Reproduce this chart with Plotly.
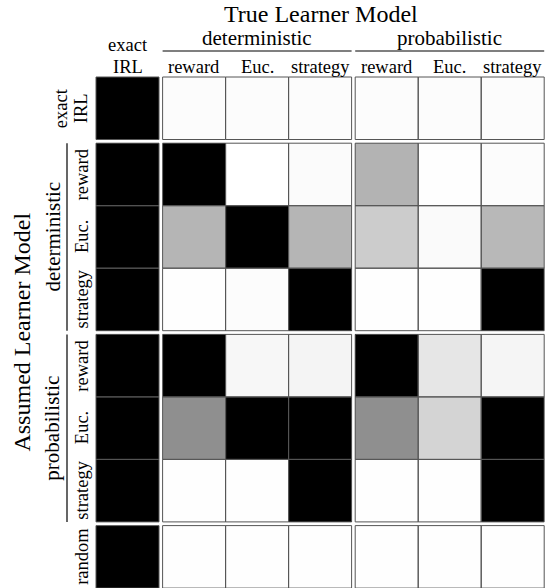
import math
import plotly.graph_objects as go

# ---------------- data ----------------
true_groups = ["", "deterministic", "probabilistic"]
true_models = [["exact\nIRL"], ["reward", "Euc.", "strategy"], ["reward", "Euc.", "strategy"]]
assumed_groups = ["", "deterministic", "probabilistic", ""]
assumed_models = [["exact\nIRL"], ["reward", "Euc.", "strategy"], ["reward", "Euc.", "strategy"], ["random"]]

# darkness of each cell (0 = white, 1 = black); rows = assumed model, cols = true model
row_exact_irl = [1.0, 0.01, 0.01, 0.01, 0.01, 0.01, 0.01]
row_det_reward = [1.0, 1.0, 0.0, 0.015, 0.30, 0.005, 0.01]
row_det_euc = [1.0, 0.29, 1.0, 0.29, 0.20, 0.02, 0.28]
row_det_strategy = [1.0, 0.005, 0.01, 1.0, 0.005, 0.005, 1.0]
row_prob_reward = [1.0, 1.0, 0.03, 0.045, 1.0, 0.10, 0.04]
row_prob_euc = [1.0, 0.44, 1.0, 1.0, 0.44, 0.17, 1.0]
row_prob_strategy = [1.0, 0.005, 0.005, 1.0, 0.005, 0.005, 1.0]
row_random = [1.0, 0.005, 0.005, 0.005, 0.005, 0.005, 0.005]
values = [row_exact_irl, row_det_reward, row_det_euc, row_det_strategy,
          row_prob_reward, row_prob_euc, row_prob_strategy, row_random]

title_top = "True Learner Model"
title_left = "Assumed Learner Model"

# ---------------- layout constants ----------------
W, H = 557, 588
X0, CW, XGAP = 96.0, 63.0, 3.6
Y0, CH, YGAP = 77.0, 62.5, 3.7
FONT = "Liberation Serif"
LABEL_SIZE = 18.5
GROUP_SIZE = 21
TITLE_SIZE = 24


def edges(start, size, gap, groups):
    e = [start]
    centers = []
    kinds = []  # True for real cell, False for gap
    pos = start
    for gi, g in enumerate(groups):
        if gi > 0:
            pos += gap
            e.append(pos)
            kinds.append(False)
        for _ in g:
            centers.append(pos + size / 2)
            pos += size
            e.append(pos)
            kinds.append(True)
    return e, centers, kinds


x_edges, x_centers, x_kinds = edges(X0, CW, XGAP, true_models)
y_edges, y_centers, y_kinds = edges(Y0, CH, YGAP, assumed_models)

# expand the value matrix with NaN gap rows/cols
z = []
ri = 0
for rk in y_kinds:
    if not rk:
        z.append([math.nan] * len(x_kinds))
        continue
    row = []
    ci = 0
    for ck in x_kinds:
        if ck:
            row.append(values[ri][ci])
            ci += 1
        else:
            row.append(math.nan)
    z.append(row)
    ri += 1

fig = go.Figure(go.Heatmap(
    x=x_edges, y=y_edges, z=z, zmin=0, zmax=1,
    colorscale=[[0, "rgb(255,255,255)"], [1, "rgb(0,0,0)"]],
    showscale=False, hoverinfo="skip",
))

shapes = []
# cell borders
real_x = [(x_edges[i], x_edges[i + 1]) for i, k in enumerate(x_kinds) if k]
real_y = [(y_edges[i], y_edges[i + 1]) for i, k in enumerate(y_kinds) if k]
for (ya, yb) in real_y:
    for (xa, xb) in real_x:
        shapes.append(dict(type="rect", xref="x", yref="y", x0=xa, x1=xb, y0=ya, y1=yb,
                           line=dict(color="#555555", width=1), fillcolor="rgba(0,0,0,0)"))

annotations = []


def ann(text, x, y, size, angle=0, xanchor="center", yanchor="middle", pad=1):
    annotations.append(dict(text=text, x=x, y=y, xref="x", yref="y", showarrow=False,
                            textangle=angle, xanchor=xanchor, yanchor=yanchor, borderpad=pad,
                            font=dict(family=FONT, size=size, color="black")))


# top title
ann(title_top, (x_edges[0] + x_edges[-1]) / 2 + 1, 0, TITLE_SIZE, yanchor="top", pad=0)

# top headers
HDR_BASE = 78.5
GRP_BASE = 51.5
ci = 0
for gi, g in enumerate(true_models):
    gx = [x_centers[ci + k] for k in range(len(g))]
    if true_groups[gi]:
        xa = gx[0] - CW / 2
        xb = gx[-1] + CW / 2
        ann(true_groups[gi], (xa + xb) / 2, GRP_BASE, GROUP_SIZE, yanchor="bottom")
        shapes.append(dict(type="line", xref="x", yref="y", x0=xa, x1=xb, y0=51, y1=51,
                           line=dict(color="black", width=1.2)))
    for k, name in enumerate(g):
        if "\n" in name:
            a, b = name.split("\n")
            ann(a, gx[k], HDR_BASE - 21.5, LABEL_SIZE, yanchor="bottom")
            ann(b, gx[k], HDR_BASE, LABEL_SIZE, yanchor="bottom")
        else:
            ann(name, gx[k], HDR_BASE, LABEL_SIZE, yanchor="bottom")
    ci += len(g)

# left headers
ROW_BASE = 94
LGRP_BASE = 66.5
ann(title_left, 37, (y_edges[0] + y_edges[-1]) / 2, TITLE_SIZE, angle=-90, xanchor="right")
ri = 0
for gi, g in enumerate(assumed_models):
    gy = [y_centers[ri + k] for k in range(len(g))]
    if assumed_groups[gi]:
        ya = gy[0] - CH / 2
        yb = gy[-1] + CH / 2
        ann(assumed_groups[gi], LGRP_BASE, (ya + yb) / 2, GROUP_SIZE, angle=-90, xanchor="right")
        shapes.append(dict(type="line", xref="x", yref="y", x0=67, x1=67, y0=ya, y1=yb,
                           line=dict(color="black", width=1.2)))
    for k, name in enumerate(g):
        if "\n" in name:
            a, b = name.split("\n")
            ann(a, ROW_BASE - 21, gy[k], LABEL_SIZE, angle=-90, xanchor="right")
            ann(b, ROW_BASE - 1, gy[k], LABEL_SIZE, angle=-90, xanchor="right")
        else:
            ann(name, ROW_BASE, gy[k], LABEL_SIZE, angle=-90, xanchor="right")
    ri += len(g)

fig.update_layout(
    width=W, height=H, margin=dict(l=0, r=0, t=0, b=0),
    paper_bgcolor="white", plot_bgcolor="white",
    xaxis=dict(range=[0, W], visible=False, fixedrange=True),
    yaxis=dict(range=[H, 0], visible=False, fixedrange=True),
    shapes=shapes, annotations=annotations, showlegend=False,
)
fig.write_html("out.html", config={"displayModeBar": False},
               post_script="document.body.style.margin='0px';document.body.style.overflow='hidden';")
